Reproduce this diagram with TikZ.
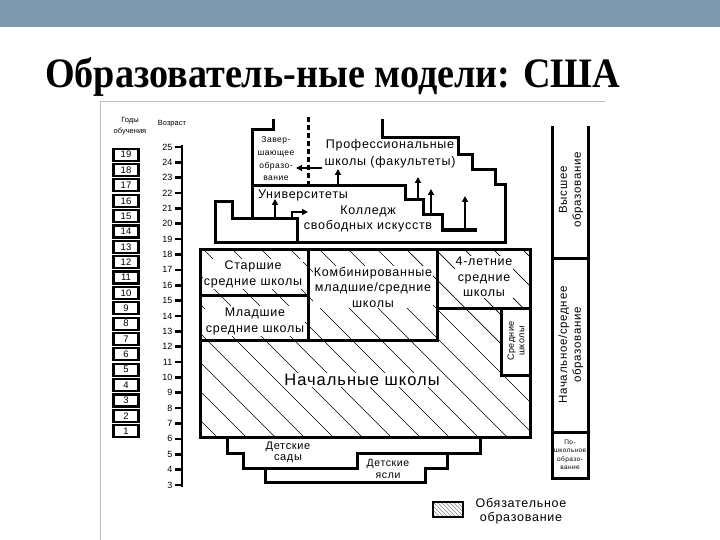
\documentclass[tikz,border=0pt]{standalone}
\usepackage{fontspec}
\setmainfont{Liberation Sans}
\newfontfamily\dfont{Liberation Sans}[LetterSpace=6]
\newfontfamily\nfont{Liberation Sans}
\newfontfamily\tfont{Liberation Serif Bold}
\usetikzlibrary{arrows.meta}
\definecolor{barblue}{HTML}{7F99AE}
\definecolor{framegray}{HTML}{BDBDBD}
\newcommand{\dsz}[2]{\dfont\fontsize{#1}{#2}\selectfont}
\newcommand{\nsz}[2]{\nfont\fontsize{#1}{#2}\selectfont}
\tikzset{
  wall/.style={line width=3pt, line join=miter, line cap=rect},
  lbl/.style={font=\dsz{12.5}{16}, align=center, inner sep=1pt},
  wlbl/.style={lbl, fill=white},
  arr/.style={line width=1.5pt, -{Triangle[length=6pt,width=6pt]}},
  hatch/.style={line width=0.7pt},
  agelbl/.style={font=\nsz{9}{9}, anchor=east, inner sep=0.5pt},
  yrbox/.style={draw, line width=2.2pt, minimum width=25pt, minimum height=12pt, inner sep=0pt, font=\nsz{9.5}{9.5}},
  rotlbl/.style={lbl, rotate=90, font=\dsz{11.5}{14}},
}
\begin{document}
\begin{tikzpicture}[x=1pt,y=-1pt]
\useasboundingbox (0,0) rectangle (720,540);
\fill[white] (0,0) rectangle (720,540);
\fill[barblue] (0,0) rectangle (720,27);
\node[anchor=base west, inner sep=0pt] (title) at (45,88)
  {\resizebox{575pt}{30pt}{\tfont Образователь-ные модели: США}};
\draw[framegray, line width=0.8pt] (100,540) -- (100,101) -- (605,101);

% ---- years of study column
\node[lbl, font=\nsz{7.5}{11}] (gody) at (130,126) {Годы\\обучения};
\foreach \n in {1,...,19} {
  \pgfmathsetmacro\yc{147+(19.5-\n)*15.36}
  \node[yrbox] (yr\n) at (126,\yc) {\n};
}
% ---- age axis
\node[lbl, font=\nsz{7.5}{8}] (vozr) at (172,124) {Возраст};
\coordinate (axtop) at (182,145);
\coordinate (axbot) at (182,487);
\draw[line width=2.8pt] (axtop) -- (axbot);
\foreach \a in {3,...,25} {
  \pgfmathsetmacro\ya{147+(25-\a)*15.36}
  \draw[line width=2.6pt] (175,\ya) -- (182,\ya);
  \node[agelbl] (age\a) at (173,\ya) {\a};
}

% ---- hatching of the compulsory block
\begin{scope}
  \clip (200,249) rectangle (530,437);
  \foreach \i in {-200,-171,...,340} \draw[hatch] (200+\i,249) -- ++(200,200);
\end{scope}
\fill[white] (501,308) rectangle (530,375);

% ---- labels inside the big block
\node[wlbl] (stsr) at (253,274) {Старшие\\средние школы};
\node[wlbl] (mlsr) at (255,321) {Младшие\\средние школы};
\node[wlbl, font=\dsz{12.5}{15.5}] (komb) at (373,287) {Комбинированные\\младшие/средние\\школы};
\node[wlbl, font=\dsz{12.5}{15.5}] (four) at (484,277) {4-летние\\средние\\школы};
\node[wlbl, font=\dsz{16.5}{18}] (nach) at (362,380) {Начальные школы};
\node[lbl, rotate=90, font=\dsz{9}{10.5}] (sred) at (516,341) {Средние\\школы};

% ---- walls of the big block
\draw[wall] (200,249) rectangle (530,437);
\draw[wall] (308,249) -- (308,340);
\draw[wall] (200,295) -- (308,295);
\draw[wall] (200,340) -- (437,340);
\draw[wall] (437,249) -- (437,340);
\draw[wall] (437,308) -- (530,308);
\draw[wall] (501,308) -- (501,375) -- (530,375);

% ---- upper block (higher education)
\draw[wall] (215,242) -- (215,202) -- (232,202) -- (232,219) -- (297,219) -- (297,242);
\draw[wall] (252,219) -- (252,130) -- (273,130) -- (273,121);
\draw[wall] (215,242) -- (505,242);
\draw[wall] (382,121) -- (382,138) -- (458,138) -- (458,155) -- (472,155) -- (472,170)
  -- (495,170) -- (495,185) -- (505,185) -- (505,242);
\draw[wall, line cap=butt] (252,186) -- (405,186) -- (405,200) -- (423,200) -- (423,215)
  -- (442,215) -- (442,230) -- (477,230);
\draw[line width=3pt, dash pattern=on 5pt off 3pt] (308,117) -- (308,186);

\node[lbl, font=\dsz{8.5}{12.7}] (zav) at (276,159) {Завер-\\шающее\\образо-\\вание};
\node[lbl, font=\dsz{12.5}{17}] (prof) at (390,154) {Профессиональные\\школы (факультеты)};
\node[lbl] (univ) at (303,195) {Университеты};
\node[lbl, font=\dsz{12.5}{14.5}] (coll) at (368,219) {Колледж\\свободных искусств};

% ---- arrows
\coordinate (a1s) at (322,168); \coordinate (a1e) at (296,168);
\coordinate (a2s) at (338,185); \coordinate (a2e) at (338,169);
\coordinate (a3s) at (275,218); \coordinate (a3e) at (275,199);
\coordinate (a4s) at (292,218); \coordinate (a4e) at (308,212);
\coordinate (a5s) at (418,199); \coordinate (a5e) at (418,177);
\coordinate (a6s) at (431,214); \coordinate (a6e) at (431,189);
\coordinate (a7s) at (465,229); \coordinate (a7e) at (465,196);
\draw[arr] (a1s) -- (a1e);
\draw[arr] (a2s) -- (a2e);
\draw[arr] (a3s) -- (a3e);
\draw[arr] (a4s) |- (a4e);
\draw[arr] (a5s) -- (a5e);
\draw[arr] (a6s) -- (a6e);
\draw[arr] (a7s) -- (a7e);

% ---- kindergartens and nurseries
\draw[wall] (227,437) -- (227,453) -- (243,453) -- (243,468) -- (265,468) -- (265,482)
  -- (425,482) -- (425,468) -- (447,468) -- (447,453) -- (480,453) -- (480,437);
\draw[wall] (243,468) -- (357,468) -- (357,453) -- (447,453);
\node[lbl, font=\dsz{11}{11}] (sady) at (288,452) {Детские\\сады};
\node[lbl, font=\dsz{10.5}{12.5}] (yasli) at (388,469) {Детские\\ясли};

% ---- right column
\draw[wall, line cap=butt] (552,126) -- (552,478) -- (588,478) -- (588,126);
\draw[wall] (552,258) -- (588,258);
\draw[wall] (552,432) -- (588,432);
\node[rotlbl] (vys) at (571,190) {Высшее\\образование};
\node[rotlbl] (nsr) at (571,345) {Начальное/среднее\\образование};
\node[lbl, font=\dsz{6.5}{8.5}] (posh) at (570,455) {По-\\школьное\\образо-\\вание};

% ---- legend
\node[draw, line width=2.5pt, minimum width=30pt, minimum height=15pt, inner sep=0pt] (legbox) at (448,509.5) {};
\begin{scope}
  \clip (433,502) rectangle (463,517);
  \foreach \i in {-20,-16,...,32} \draw[line width=0.5pt, gray] (433+\i,502) -- ++(15,15);
\end{scope}
\node[draw, line width=2.5pt, minimum width=30pt, minimum height=15pt, inner sep=0pt] (legframe) at (legbox.center) {};
\node[lbl, font=\dsz{12.5}{14}] (legtxt) at (521,511) {Обязательное\\образование};
\end{tikzpicture}
\end{document}
